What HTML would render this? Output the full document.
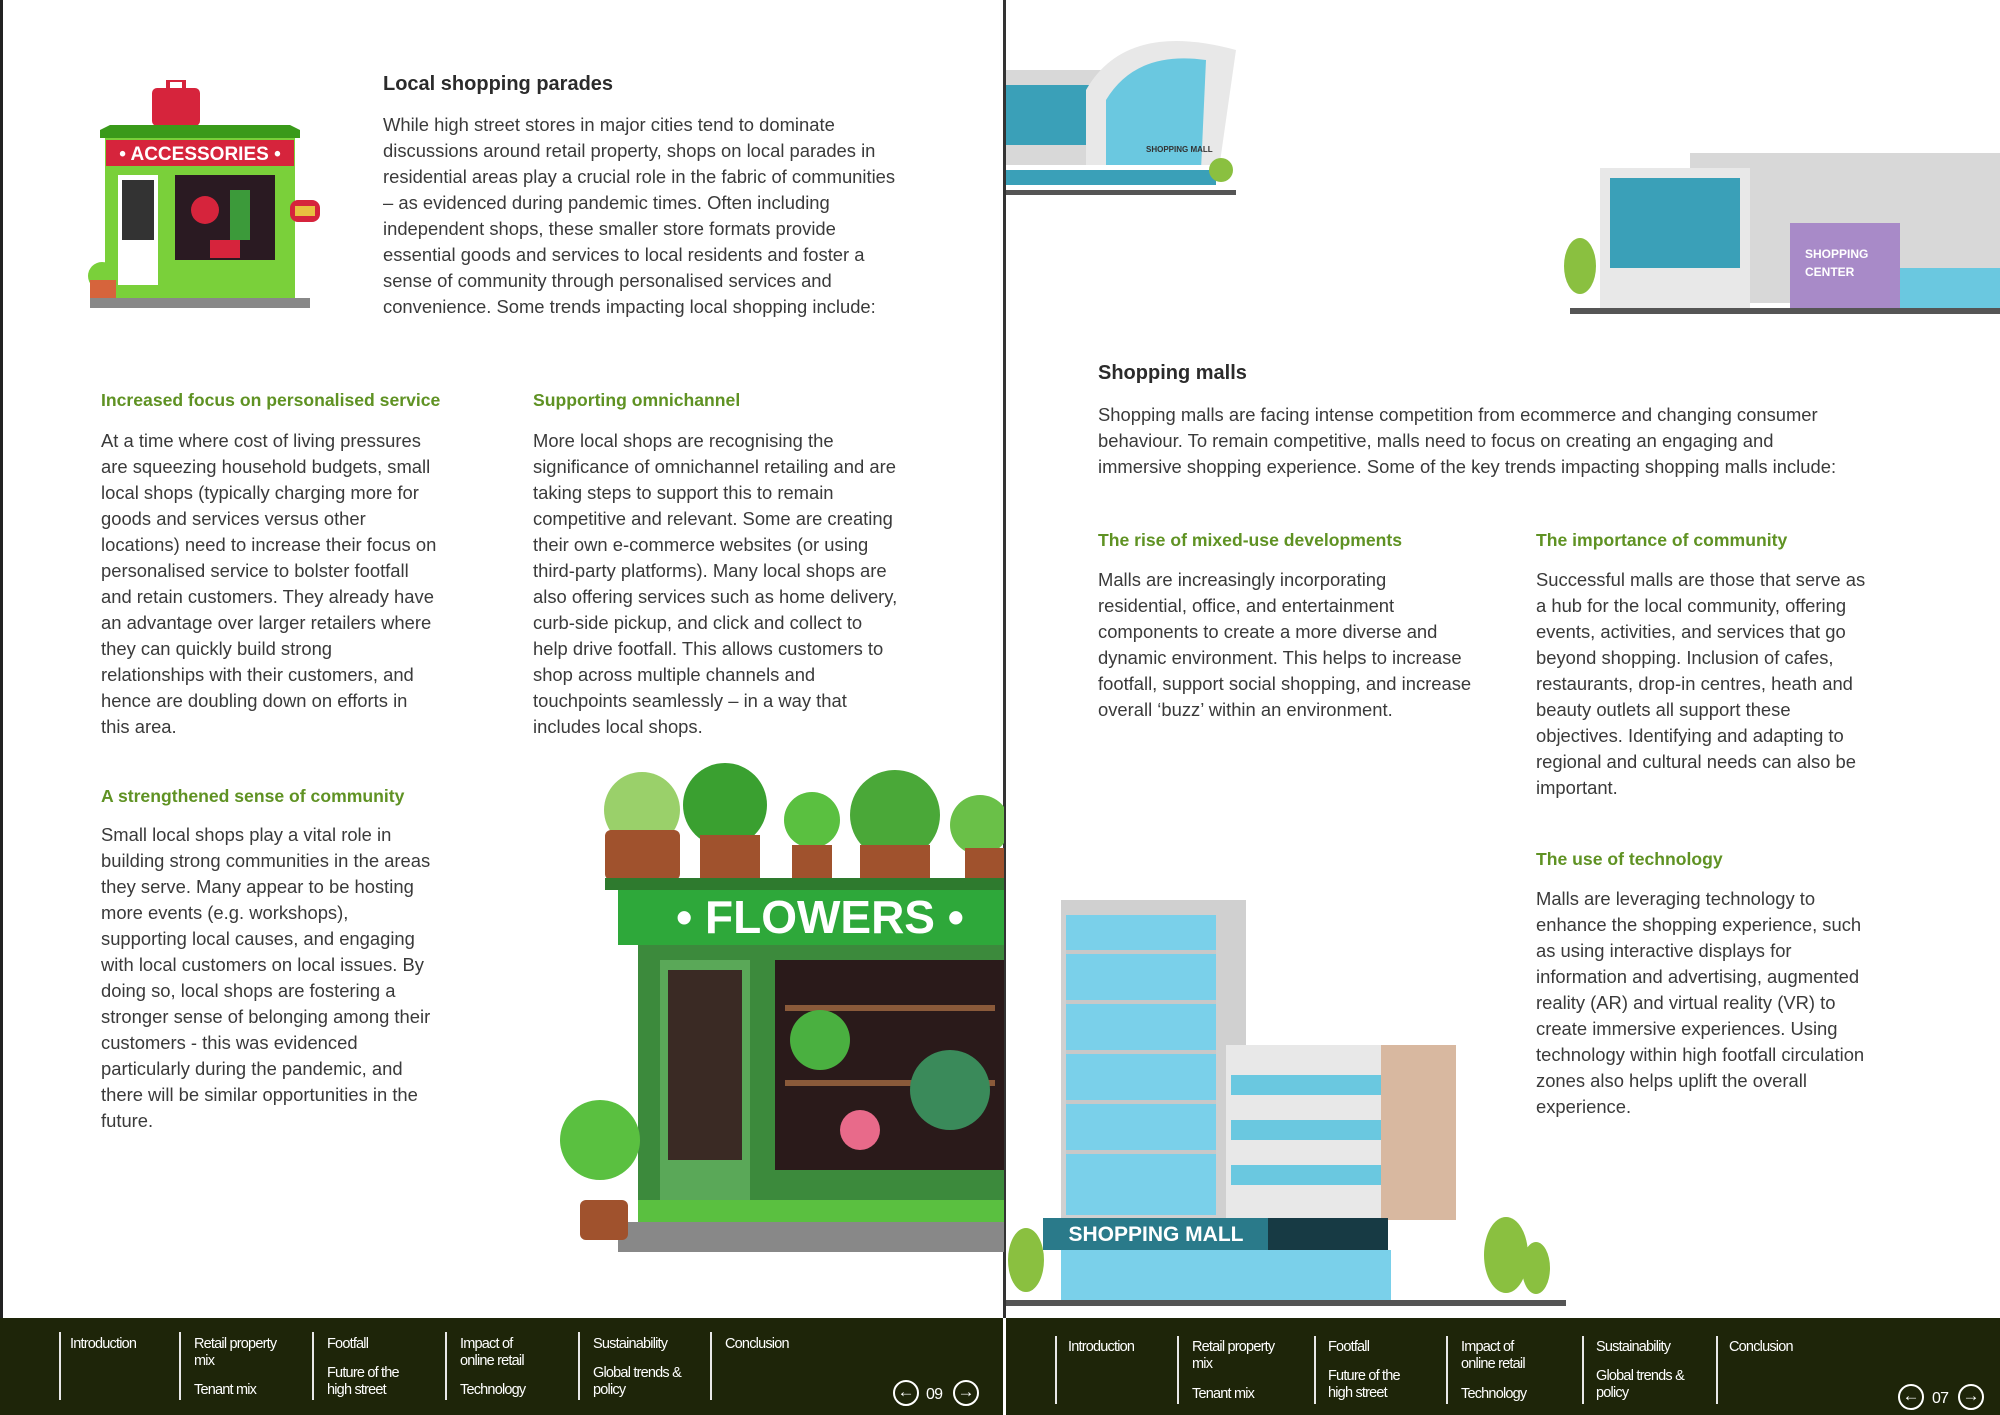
<!DOCTYPE html>
<html><head><meta charset="utf-8"><style>
*{margin:0;padding:0;box-sizing:border-box}
body{width:2000px;height:1415px;position:relative;background:#fff;font-family:"Liberation Sans",sans-serif;color:#3a3a3a;overflow:hidden}
.a{position:absolute}
.t{font-size:20px;font-weight:bold;color:#2b2b2b}
.p{font-size:18.4px;line-height:26px;color:#3a3a3a;white-space:nowrap}
.h{font-size:17.6px;font-weight:bold;color:#5f9223}
.f{position:absolute;top:1318px;height:97px;background:#1e2509}
.s{position:absolute;top:1332px;height:68px;width:2px;background:#e8e8e8}
.n{position:absolute;color:#fff;font-size:14.5px;line-height:17px;letter-spacing:-0.8px}
.c{position:absolute;width:26px;height:26px;border:2.5px solid #fff;border-radius:50%;color:#fff;font-size:17px;line-height:20px;text-align:center;font-weight:bold}
</style></head><body>

<div class="a" style="left:0;top:0;width:3px;height:1318px;background:#222"></div>
<div class="a" style="left:1003px;top:0;width:3px;height:1318px;background:#333"></div>

<svg class="a" style="left:80px;top:80px" width="255" height="240">
<rect x="72" y="8" width="48" height="38" rx="5" fill="#d6243c"/><rect x="88" y="0" width="16" height="10" fill="none" stroke="#d6243c" stroke-width="4"/>
<polygon points="20,50 220,50 210,45 30,45" fill="#3a9a1a"/><rect x="20" y="50" width="200" height="8" fill="#3a9a1a"/>
<rect x="25" y="58" width="190" height="160" fill="#7ad03a"/>
<rect x="26" y="60" width="188" height="26" fill="#d6243c"/><text x="120" y="80" fill="#fff" font-size="19" font-weight="bold" text-anchor="middle" font-family="Liberation Sans">• ACCESSORIES •</text>
<rect x="38" y="95" width="40" height="110" fill="#fff"/><rect x="42" y="100" width="32" height="60" fill="#333"/>
<rect x="95" y="95" width="100" height="85" fill="#2a1a22"/><circle cx="125" cy="130" r="14" fill="#d6243c"/><rect x="150" y="110" width="20" height="50" fill="#3c9a3a"/><rect x="130" y="160" width="30" height="18" fill="#d6243c"/>
<rect x="210" y="120" width="30" height="22" rx="8" fill="#d6243c"/><rect x="215" y="126" width="20" height="10" fill="#e8c040"/>
<rect x="10" y="218" width="220" height="10" fill="#888"/>
<circle cx="22" cy="196" r="14" fill="#7ad03a"/><rect x="10" y="200" width="26" height="18" fill="#d6643c"/>
</svg>

<div class="a t" style="left:383px;top:73px">Local shopping parades</div>
<div class="a p" style="left:383px;top:112px">While high street stores in major cities tend to dominate<br>discussions around retail property, shops on local parades in<br>residential areas play a crucial role in the fabric of communities<br>– as evidenced during pandemic times. Often including<br>independent shops, these smaller store formats provide<br>essential goods and services to local residents and foster a<br>sense of community through personalised services and<br>convenience. Some trends impacting local shopping include:</div>

<div class="a h" style="left:101px;top:390px">Increased focus on personalised service</div>
<div class="a p" style="left:101px;top:428px">At a time where cost of living pressures<br>are squeezing household budgets, small<br>local shops (typically charging more for<br>goods and services versus other<br>locations) need to increase their focus on<br>personalised service to bolster footfall<br>and retain customers. They already have<br>an advantage over larger retailers where<br>they can quickly build strong<br>relationships with their customers, and<br>hence are doubling down on efforts in<br>this area.</div>

<div class="a h" style="left:533px;top:390px">Supporting omnichannel</div>
<div class="a p" style="left:533px;top:428px">More local shops are recognising the<br>significance of omnichannel retailing and are<br>taking steps to support this to remain<br>competitive and relevant. Some are creating<br>their own e-commerce websites (or using<br>third-party platforms). Many local shops are<br>also offering services such as home delivery,<br>curb-side pickup, and click and collect to<br>help drive footfall. This allows customers to<br>shop across multiple channels and<br>touchpoints seamlessly – in a way that<br>includes local shops.</div>

<div class="a h" style="left:101px;top:786px">A strengthened sense of community</div>
<div class="a p" style="left:101px;top:822px">Small local shops play a vital role in<br>building strong communities in the areas<br>they serve. Many appear to be hosting<br>more events (e.g. workshops),<br>supporting local causes, and engaging<br>with local customers on local issues. By<br>doing so, local shops are fostering a<br>stronger sense of belonging among their<br>customers - this was evidenced<br>particularly during the pandemic, and<br>there will be similar opportunities in the<br>future.</div>

<svg class="a" style="left:550px;top:760px" width="454" height="500">
<circle cx="92" cy="50" r="38" fill="#9ad06a"/><rect x="55" y="70" width="75" height="50" rx="6" fill="#a0522d"/>
<circle cx="175" cy="45" r="42" fill="#3aa030"/><rect x="150" y="75" width="60" height="45" fill="#a0522d"/>
<circle cx="262" cy="60" r="28" fill="#5ac040"/><rect x="242" y="85" width="40" height="35" fill="#a0522d"/>
<circle cx="345" cy="55" r="45" fill="#4aa838"/><rect x="310" y="85" width="70" height="35" fill="#a0522d"/>
<circle cx="430" cy="65" r="30" fill="#6ac048"/><rect x="415" y="88" width="40" height="32" fill="#a0522d"/>
<rect x="55" y="118" width="399" height="12" fill="#2e7a2e"/>
<rect x="68" y="130" width="386" height="55" fill="#2ea83a"/>
<text x="270" y="173" fill="#fff" font-size="46" font-weight="bold" text-anchor="middle" font-family="Liberation Sans">• FLOWERS •</text>
<rect x="88" y="185" width="366" height="270" fill="#3c8a3c"/>
<rect x="110" y="200" width="90" height="250" fill="#5aa858"/><rect x="118" y="210" width="74" height="190" fill="#3a2a24"/>
<rect x="225" y="200" width="229" height="210" fill="#2a1a1a"/><rect x="235" y="245" width="210" height="6" fill="#8a5a3a"/><rect x="235" y="320" width="210" height="6" fill="#8a5a3a"/>
<circle cx="270" cy="280" r="30" fill="#4ab040"/><circle cx="400" cy="330" r="40" fill="#3a8a5a"/><circle cx="310" cy="370" r="20" fill="#e86a8a"/>
<rect x="88" y="440" width="366" height="22" fill="#5ac040"/>
<rect x="68" y="462" width="386" height="30" fill="#888"/>
<circle cx="50" cy="380" r="40" fill="#5ac040"/><rect x="30" y="440" width="48" height="40" rx="6" fill="#a0522d"/>
</svg>

<svg class="a" style="left:1006px;top:30px" width="240" height="170">
<rect x="0" y="40" width="100" height="120" fill="#d8d8d8"/><rect x="0" y="55" width="100" height="60" fill="#3aa0b8"/>
<path d="M80 160 L80 60 Q120 -10 230 20 L210 160 Z" fill="#e8e8e8"/><path d="M100 140 L100 70 Q130 20 200 30 L195 140 Z" fill="#6ac8e0"/>
<rect x="0" y="135" width="230" height="25" fill="#fff"/><rect x="0" y="140" width="210" height="15" fill="#3aa0b8"/>
<text x="140" y="122" font-size="8" font-weight="bold" fill="#333" font-family="Liberation Sans">SHOPPING MALL</text>
<circle cx="215" cy="140" r="12" fill="#8ac040"/><rect x="0" y="160" width="230" height="5" fill="#555"/>
</svg>
<svg class="a" style="left:1560px;top:148px" width="440" height="170">
<rect x="130" y="5" width="310" height="150" fill="#d8d8d8"/><rect x="40" y="20" width="150" height="140" fill="#e8e8e8"/>
<rect x="50" y="30" width="130" height="90" fill="#3aa0b8"/><rect x="230" y="75" width="110" height="85" fill="#a88ac8"/>
<text x="245" y="110" font-size="12" font-weight="bold" fill="#fff" font-family="Liberation Sans">SHOPPING</text><text x="245" y="128" font-size="12" font-weight="bold" fill="#fff" font-family="Liberation Sans">CENTER</text>
<rect x="340" y="120" width="100" height="40" fill="#6ac8e0"/><ellipse cx="20" cy="118" rx="16" ry="28" fill="#8ac040"/>
<rect x="10" y="160" width="430" height="6" fill="#555"/>
</svg>

<div class="a t" style="left:1098px;top:362px">Shopping malls</div>
<div class="a p" style="left:1098px;top:402px">Shopping malls are facing intense competition from ecommerce and changing consumer<br>behaviour. To remain competitive, malls need to focus on creating an engaging and<br>immersive shopping experience. Some of the key trends impacting shopping malls include:</div>

<div class="a h" style="left:1098px;top:530px">The rise of mixed-use developments</div>
<div class="a p" style="left:1098px;top:567px">Malls are increasingly incorporating<br>residential, office, and entertainment<br>components to create a more diverse and<br>dynamic environment. This helps to increase<br>footfall, support social shopping, and increase<br>overall ‘buzz’ within an environment.</div>

<div class="a h" style="left:1536px;top:530px">The importance of community</div>
<div class="a p" style="left:1536px;top:567px">Successful malls are those that serve as<br>a hub for the local community, offering<br>events, activities, and services that go<br>beyond shopping. Inclusion of cafes,<br>restaurants, drop-in centres, heath and<br>beauty outlets all support these<br>objectives. Identifying and adapting to<br>regional and cultural needs can also be<br>important.</div>

<div class="a h" style="left:1536px;top:849px">The use of technology</div>
<div class="a p" style="left:1536px;top:886px">Malls are leveraging technology to<br>enhance the shopping experience, such<br>as using interactive displays for<br>information and advertising, augmented<br>reality (AR) and virtual reality (VR) to<br>create immersive experiences. Using<br>technology within high footfall circulation<br>zones also helps uplift the overall<br>experience.</div>

<svg class="a" style="left:1006px;top:900px" width="560" height="410">
<rect x="55" y="0" width="185" height="320" fill="#d0d0d0"/><rect x="60" y="15" width="150" height="300" fill="#7ad0ea"/>
<g fill="#c8c8c8"><rect x="60" y="50" width="150" height="4"/><rect x="60" y="100" width="150" height="4"/><rect x="60" y="150" width="150" height="4"/><rect x="60" y="200" width="150" height="4"/><rect x="60" y="250" width="150" height="4"/></g>
<rect x="220" y="145" width="230" height="175" fill="#e8e8e8"/><rect x="225" y="175" width="175" height="20" fill="#6ac8e0"/><rect x="225" y="220" width="175" height="20" fill="#6ac8e0"/><rect x="225" y="265" width="175" height="20" fill="#6ac8e0"/>
<rect x="375" y="145" width="75" height="175" fill="#d8b8a0"/>
<rect x="37" y="318" width="225" height="32" fill="#2a7a8a"/><rect x="262" y="318" width="120" height="32" fill="#173a44"/>
<text x="150" y="341" fill="#fff" font-size="21" font-weight="bold" text-anchor="middle" font-family="Liberation Sans">SHOPPING MALL</text>
<rect x="55" y="350" width="330" height="50" fill="#7ad0ea"/>
<ellipse cx="20" cy="360" rx="18" ry="32" fill="#8ac040"/><ellipse cx="500" cy="355" rx="22" ry="38" fill="#8ac040"/><ellipse cx="530" cy="368" rx="14" ry="26" fill="#8ac040"/>
<rect x="0" y="400" width="560" height="6" fill="#555"/>
</svg>

<div class="f" style="left:0;width:1003px"></div>
<div class="f" style="left:1006px;width:994px"></div>

<div class="s" style="left:59px"></div><div class="n" style="left:70px;top:1336px">Introduction</div>
<div class="s" style="left:179px"></div><div class="n" style="left:194px;top:1336px">Retail property<br>mix</div><div class="n" style="left:194px;top:1382px">Tenant mix</div>
<div class="s" style="left:312px"></div><div class="n" style="left:327px;top:1336px">Footfall</div><div class="n" style="left:327px;top:1365px">Future of the<br>high street</div>
<div class="s" style="left:445px"></div><div class="n" style="left:460px;top:1336px">Impact of<br>online retail</div><div class="n" style="left:460px;top:1382px">Technology</div>
<div class="s" style="left:578px"></div><div class="n" style="left:593px;top:1336px">Sustainability</div><div class="n" style="left:593px;top:1365px">Global trends &amp;<br>policy</div>
<div class="s" style="left:710px"></div><div class="n" style="left:725px;top:1336px">Conclusion</div>
<div class="c" style="left:893px;top:1380px">←</div><div class="n" style="left:926px;top:1386px;font-size:16px">09</div><div class="c" style="left:953px;top:1380px">→</div>

<div class="s" style="left:1055px;top:1336px"></div><div class="n" style="left:1068px;top:1339px">Introduction</div>
<div class="s" style="left:1177px;top:1336px"></div><div class="n" style="left:1192px;top:1339px">Retail property<br>mix</div><div class="n" style="left:1192px;top:1386px">Tenant mix</div>
<div class="s" style="left:1314px;top:1336px"></div><div class="n" style="left:1328px;top:1339px">Footfall</div><div class="n" style="left:1328px;top:1368px">Future of the<br>high street</div>
<div class="s" style="left:1446px;top:1336px"></div><div class="n" style="left:1461px;top:1339px">Impact of<br>online retail</div><div class="n" style="left:1461px;top:1386px">Technology</div>
<div class="s" style="left:1582px;top:1336px"></div><div class="n" style="left:1596px;top:1339px">Sustainability</div><div class="n" style="left:1596px;top:1368px">Global trends &amp;<br>policy</div>
<div class="s" style="left:1716px;top:1336px"></div><div class="n" style="left:1729px;top:1339px">Conclusion</div>
<div class="c" style="left:1898px;top:1384px">←</div><div class="n" style="left:1932px;top:1390px;font-size:16px">07</div><div class="c" style="left:1958px;top:1384px">→</div>
</body></html>
